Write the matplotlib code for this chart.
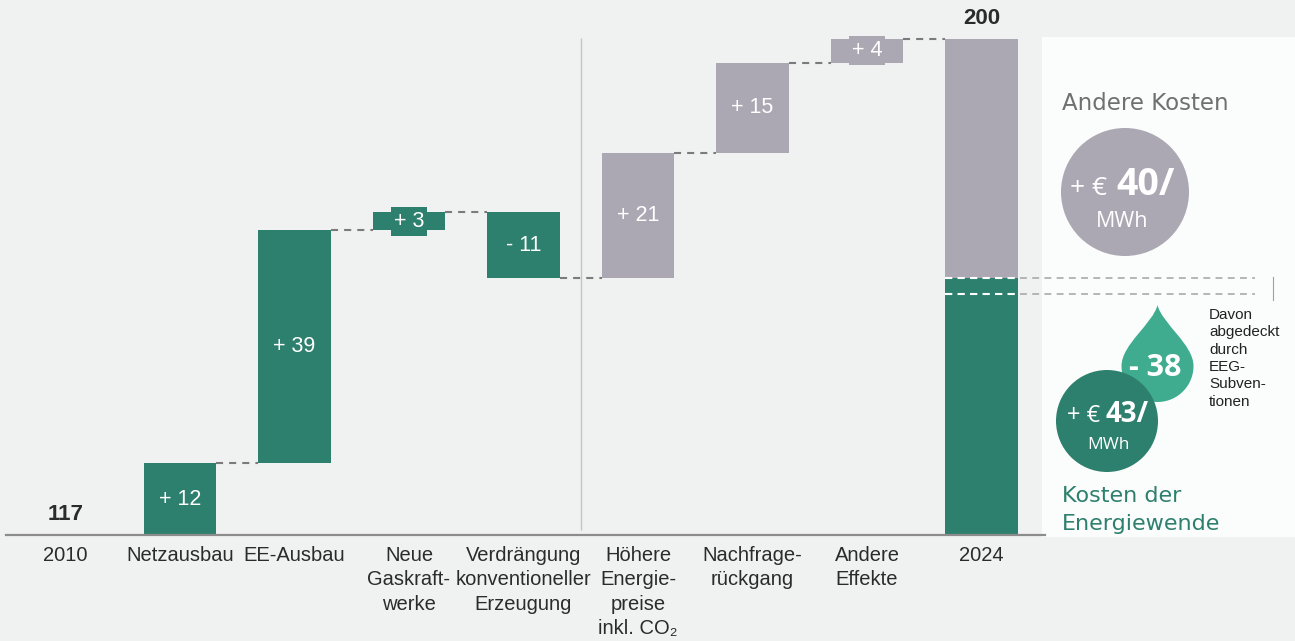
import numpy as np
import matplotlib
matplotlib.use("Agg")
import matplotlib.pyplot as plt
from matplotlib.patches import Circle, Rectangle, PathPatch
from matplotlib.path import Path

# ---- data -------------------------------------------------------------
categories = [
    "2010", "Netzausbau", "EE-Ausbau", "Neue\nGaskraft-\nwerke",
    "Verdrängung\nkonventioneller\nErzeugung",
    "Höhere\nEnergie-\npreise\ninkl. CO\u2082",
    "Nachfrage-\nrückgang", "Andere\nEffekte", "2024",
]
start_value = 117
steps = [12, 39, 3, -11, 21, 15, 4]
step_groups = ["wende", "wende", "wende", "wende", "andere", "andere", "andere"]
end_value = 200
end_wende = 43          # Kosten der Energiewende
end_andere = 40         # Andere Kosten
eeg_subsidy = 38        # davon abgedeckt durch EEG-Subventionen

# ---- style ------------------------------------------------------------
GREEN = "#2e806e"
GREY = "#aba8b3"
TEAL = "#3fac8f"
BG = "#f0f2f1"
PANEL = "#fbfcfc"
TXT = "#2b2b2b"
DASH = "#7b7b7b"
NARROW = ["Liberation Sans Narrow", "Liberation Sans", "DejaVu Sans"]
WIDE = ["Open Sans", "DejaVu Sans"]
LIGHT = ["DejaVu Sans"]

W, H = 1295, 641
fig = plt.figure(figsize=(W / 100, H / 100), dpi=100)
fig.patch.set_facecolor(BG)


def frac(left, top, right, bottom):
    return [left / W, 1 - bottom / H, (right - left) / W, (bottom - top) / H]


# background layer in pixel coordinates (white side panel)
bg = fig.add_axes([0, 0, 1, 1], zorder=0)
bg.set_xlim(0, W)
bg.set_ylim(H, 0)
bg.axis("off")
bg.add_patch(Rectangle((1042, 37), W - 1042, 500, facecolor=PANEL, lw=0))

# ---- waterfall --------------------------------------------------------
ax = fig.add_axes(frac(6, 10, 1045, 535), zorder=1)
ax.patch.set_alpha(0)
x0, dx = 65.5, 114.5
ax.set_xlim((6 - x0) / dx, (1045 - x0) / dx)
px_per_unit = 496 / (end_value - start_value)
ax.set_ylim(start_value, start_value + 525 / px_per_unit)

bw = 0.63
box_w, box_h = 0.31, 29 / px_per_unit
dash_style = (0, (3.4, 2.9))
colors = {"wende": GREEN, "andere": GREY}

level = start_value
for i, (v, g) in enumerate(zip(steps, step_groups)):
    pos = i + 1
    bottom = min(level, level + v)
    ax.bar(pos, abs(v), bottom=bottom, width=bw, color=colors[g], lw=0, zorder=2)
    mid = bottom + abs(v) / 2
    if abs(v) < 5:
        ax.add_patch(Rectangle((pos - box_w / 2, mid - box_h / 2), box_w, box_h,
                               facecolor=colors[g], lw=0, zorder=2))
    label = f"+ {v}" if v > 0 else f"- {abs(v)}"
    ax.text(pos, mid, label, ha="center", va="center", color="white",
            fontsize=15.5, family=NARROW, zorder=3)
    level += v
    # connector to the next bar
    ax.plot([pos + bw / 2, pos + 1 - bw / 2], [level, level], ls=dash_style,
            lw=1.5, color=DASH, zorder=1, solid_capstyle="butt")

last = len(categories) - 1
ax.bar(last, end_wende, bottom=start_value, width=bw, color=GREEN, lw=0, zorder=2)
ax.bar(last, end_andere, bottom=start_value + end_wende, width=bw, color=GREY,
       lw=0, zorder=2)

# separator between the two groups of effects
ax.vlines(4.5, start_value + 0.8, end_value + 0.2, color="#c4c4c4", lw=1, zorder=1)

# totals
for xpos, val in ((0, start_value), (last, end_value)):
    ax.annotate(str(val), (xpos, val), xytext=(0, 7), textcoords="offset points",
                ha="center", va="bottom", fontsize=16, fontweight="bold", color=TXT,
                family=NARROW, annotation_clip=False)

# dashed guide lines for the Energiewende share
split = start_value + end_wende
guide_end = (1255 - x0) / dx
for yv in (split, split - 15.7 / px_per_unit):
    ax.plot([last - bw / 2, last + bw / 2], [yv, yv], ls=(0, (3.5, 2.5)), lw=1.5,
            color="white", zorder=3, clip_on=False)
    ax.plot([last + bw / 2 + 0.02, guide_end], [yv, yv], ls=(0, (4.5, 3.5)), lw=1.1,
            color="#a3a3a3", zorder=3, clip_on=False)

ax.set_xticks(range(len(categories)))
ax.set_xticklabels(categories, family=NARROW, fontsize=14.5, color=TXT,
                   linespacing=1.35)
ax.tick_params(axis="x", length=0, pad=8)
ax.set_yticks([])
for s in ("top", "left", "right"):
    ax.spines[s].set_visible(False)
ax.spines["bottom"].set_color("#8c8c8c")
ax.spines["bottom"].set_linewidth(1.6)

# ---- side panel annotations (pixel coordinates) ------------------------
ov = fig.add_axes([0, 0, 1, 1], zorder=3)
ov.set_xlim(0, W)
ov.set_ylim(H, 0)
ov.axis("off")

ov.text(1062, 110, "Andere Kosten", ha="left", va="baseline", fontsize=16.5,
        color="#707070", family=LIGHT)
ov.add_patch(Circle((1125, 192), 64, facecolor=GREY, lw=0))
ov.text(1107, 195, "+ €", ha="right", va="baseline", fontsize=19, color="white",
        family=WIDE)
ov.text(1116, 195, f"{end_andere}/", ha="left", va="baseline", fontsize=27,
        fontweight="bold", color="white", family=WIDE)
ov.text(1122, 227, "MWh", ha="center", va="baseline", fontsize=15.5, color="white",
        family=WIDE)


def drop_path(cx, cy, r, tip_y):
    """Water-drop outline: round bottom with two curved flanks to a tip."""
    t = np.linspace(np.pi, 0, 60)
    arc = np.column_stack([cx + r * np.cos(t), cy + r * np.sin(t)])
    h = cy - tip_y
    verts = [(cx, tip_y),
             (cx - 0.12 * r, tip_y + 0.3 * h), (cx - r, cy - 0.6 * r), (cx - r, cy)]
    codes = [Path.MOVETO, Path.CURVE4, Path.CURVE4, Path.CURVE4]
    verts += [tuple(p) for p in arc[1:]]
    codes += [Path.LINETO] * (len(arc) - 1)
    verts += [(cx + r, cy - 0.6 * r), (cx + 0.12 * r, tip_y + 0.3 * h), (cx, tip_y)]
    codes += [Path.CURVE4] * 3
    return Path(verts, codes)


ov.add_patch(PathPatch(drop_path(1157.5, 366, 36, 305), facecolor=TEAL, lw=0))
ov.text(1155, 376, f"- {eeg_subsidy}", ha="center", va="baseline", fontsize=22,
        fontweight="bold", color="white", family=WIDE)

ov.add_patch(Circle((1107, 421), 51, facecolor=GREEN, lw=0))
ov.text(1100, 422, "+ €", ha="right", va="baseline", fontsize=17, color="white",
        family=WIDE)
ov.text(1106, 422, f"{end_wende}/", ha="left", va="baseline", fontsize=20,
        fontweight="bold", color="white", family=WIDE)
ov.text(1108, 449, "MWh", ha="center", va="baseline", fontsize=12.5, color="white",
        family=WIDE)

ov.text(1209, 308, "Davon\nabgedeckt\ndurch\nEEG-\nSubven-\ntionen", ha="left",
        va="top", fontsize=11, color="#222222", family=NARROW, linespacing=1.3)

ov.text(1062, 502, "Kosten der", ha="left", va="baseline", fontsize=16,
        color=GREEN, family=LIGHT)
ov.text(1062, 530, "Energiewende", ha="left", va="baseline", fontsize=16,
        color=GREEN, family=LIGHT)

ov.plot([1273, 1273], [277, 300], color="#a0a0a0", lw=0.8)

fig.savefig("out.png", dpi=100, facecolor=fig.get_facecolor())
